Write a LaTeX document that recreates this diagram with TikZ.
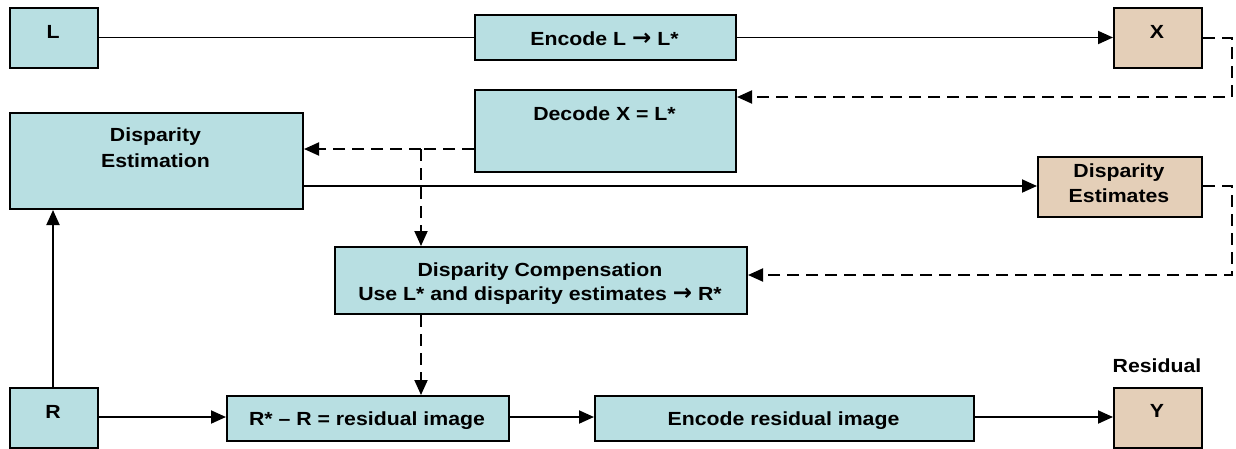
\documentclass[tikz,border=0pt]{standalone}
\usepackage{fontspec}
\setmainfont{Liberation Sans}[FakeStretch=1.12]
\newfontfamily\arrowfont{DejaVu Sans}
\newcommand{\rarr}{{\arrowfont\fontsize{23pt}{25pt}\selectfont\bfseries →}}
\usetikzlibrary{arrows.meta}
\definecolor{boxblue}{RGB}{184,223,226}
\definecolor{boxtan}{RGB}{228,207,184}
\begin{document}
\begin{tikzpicture}[x=1pt,y=-1pt,
  bluebox/.style={draw=black, line width=2pt, fill=boxblue, inner sep=0pt, anchor=north west},
  tanbox/.style={draw=black, line width=2pt, fill=boxtan, inner sep=0pt, anchor=north west},
  txt/.style={font=\fontsize{19pt}{25pt}\selectfont\bfseries, inner sep=0pt, align=center},
  conn/.style={line width=1.9pt, -{Triangle[length=15pt,width=13pt]}},
  plain/.style={line width=1.9pt},
  dashline/.style={line width=1.9pt, dash pattern=on 12pt off 7pt},
  dasharrow/.style={dashline, -{Triangle[length=15pt,width=13pt]}}
]
\useasboundingbox (0,0) rectangle (1236,448);

% boxes
\node[bluebox, minimum width=88pt, minimum height=60pt] (L) at (9,7) {};
\node[bluebox, minimum width=261pt, minimum height=45pt] (Enc) at (474,14) {};
\node[tanbox, minimum width=88pt, minimum height=60pt] (X) at (1113,7) {};
\node[bluebox, minimum width=261pt, minimum height=82pt] (Dec) at (474,89) {};
\node[bluebox, minimum width=293pt, minimum height=96pt] (DE) at (9,112) {};
\node[tanbox, minimum width=164pt, minimum height=60pt] (DEs) at (1037,156) {};
\node[bluebox, minimum width=412pt, minimum height=67pt] (DC) at (334,246) {};
\node[bluebox, minimum width=88pt, minimum height=60pt] (R) at (9,387) {};
\node[bluebox, minimum width=282pt, minimum height=45pt] (RR) at (226,395) {};
\node[bluebox, minimum width=379pt, minimum height=45pt] (ER) at (594,395) {};
\node[tanbox, minimum width=88pt, minimum height=60pt] (Y) at (1113,387) {};

% texts
\node[txt, anchor=base] (tL) at (53,38) {L};
\node[txt, anchor=base] (tEnc) at (604.5,45) {Encode L \rarr\ L*};
\node[txt, anchor=base] (tX) at (1157,38) {X};
\node[txt, anchor=base] (tDec) at (604.5,120) {Decode X = L*};
\node[txt, anchor=base] (tDE1) at (155.5,141) {Disparity};
\node[txt, anchor=base] (tDE2) at (155.5,167) {Estimation};
\node[txt, anchor=base] (tDEs1) at (1119,177) {Disparity};
\node[txt, anchor=base] (tDEs2) at (1119,202) {Estimates};
\node[txt, anchor=base] (tDC1) at (540,276) {Disparity Compensation};
\node[txt, anchor=base] (tDC2) at (540,300) {Use L* and disparity estimates \rarr\ R*};
\node[txt, anchor=base] (tR) at (53,418) {R};
\node[txt, anchor=base] (tRR) at (367,425) {R* – R = residual image};
\node[txt, anchor=base] (tER) at (783.5,425) {Encode residual image};
\node[txt, anchor=base] (tY) at (1157,417) {Y};
\node[txt, anchor=base] (tRes) at (1157,372) {Residual};

% connector helper coordinates
\coordinate (c1) at (1232,97);
\coordinate (j) at (421,149);
\coordinate (c2) at (1232,275);
\coordinate (rowR) at (0,417);
\coordinate (rowD) at (0,186);

% connectors
\draw[plain] (L.east |- Enc.west) -- (Enc.west);
\draw[conn] (Enc.east) -- (Enc.east -| X.west);
\draw[dasharrow] (X.east) -| (c1) -- (c1 -| Dec.east);
\draw[dashline] (Dec.west |- j) -- (j);
\draw[dasharrow] (j) -- (j -| DE.east);
\draw[dasharrow] (j) -- (j |- DC.north);
\draw[conn] (DE.east |- rowD) -- (DEs.west |- rowD);
\draw[dasharrow] (DEs.east |- rowD) -| (c2) -- (c2 -| DC.east);
\draw[dasharrow] (j |- DC.south) -- (j |- RR.north);
\draw[conn] (R.north -| tR) -- (DE.south -| tR);
\draw[conn] (R.east |- rowR) -- (RR.west |- rowR);
\draw[conn] (RR.east |- rowR) -- (ER.west |- rowR);
\draw[conn] (ER.east |- rowR) -- (Y.west |- rowR);
\end{tikzpicture}
\end{document}
